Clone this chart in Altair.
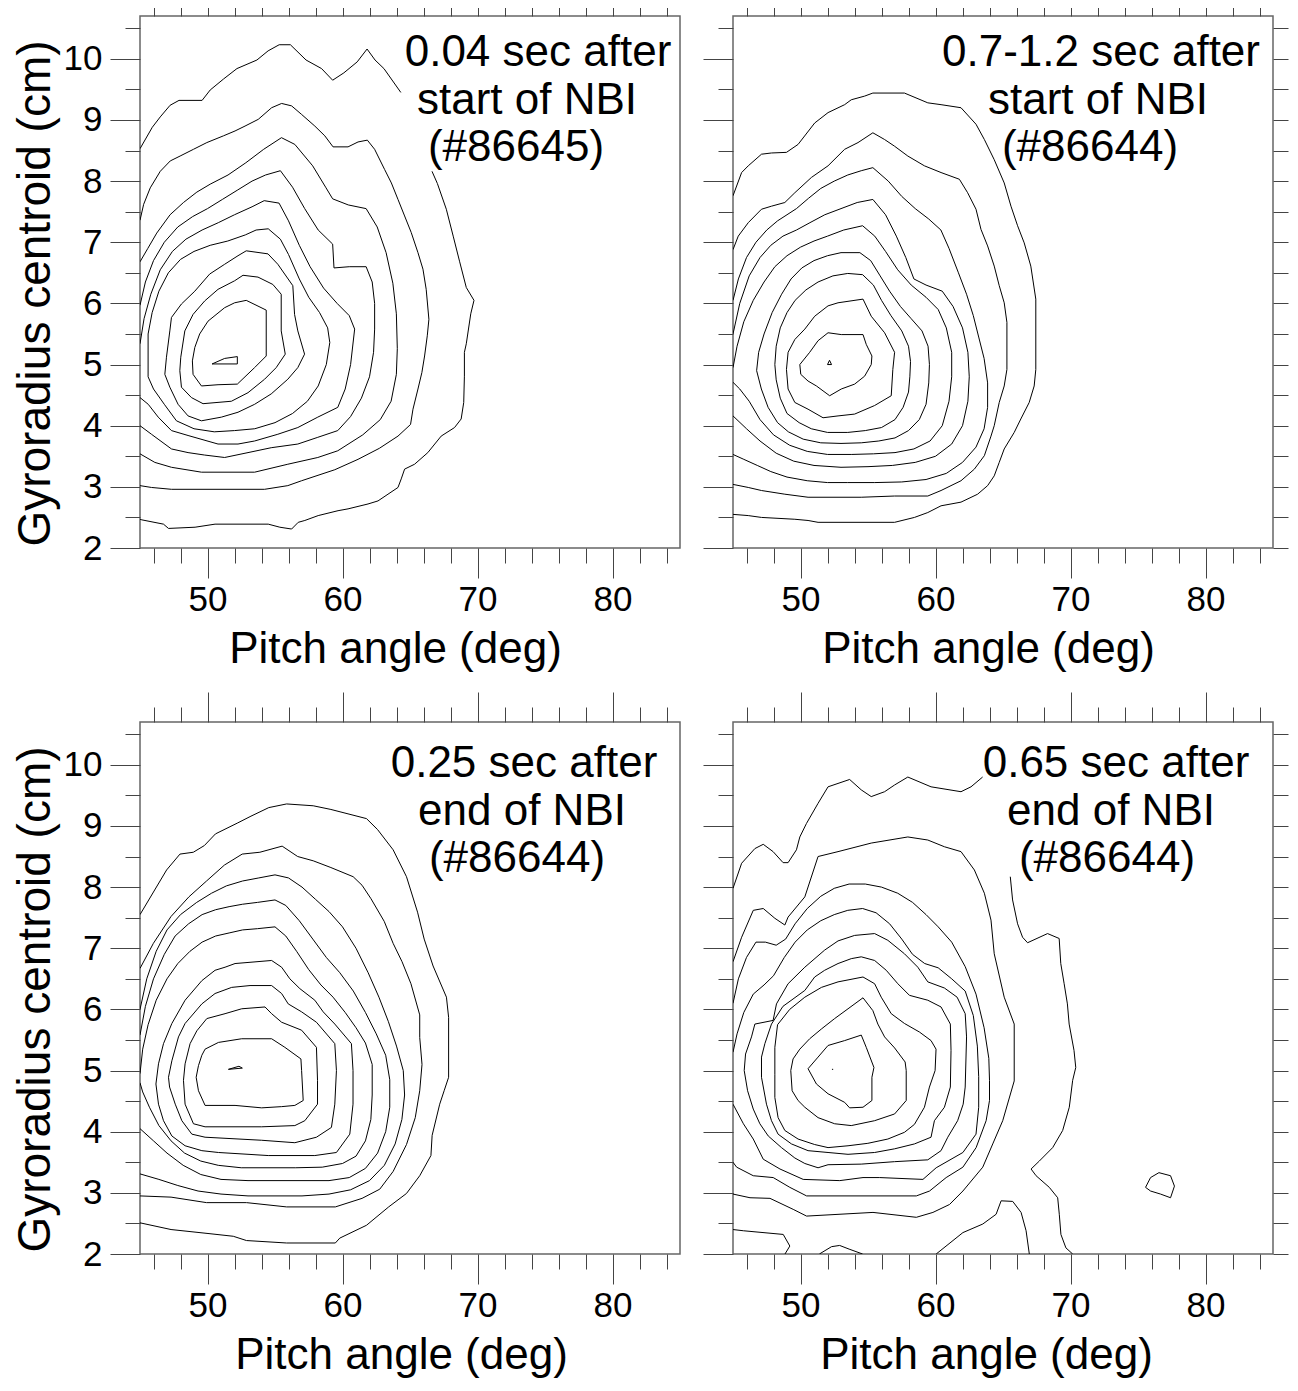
import altair as alt
import pandas as pd

FONT = "Liberation Sans"
X_DOMAIN = [45, 85]
Y_DOMAIN = [2, 10.7]
X_TICKS = [46, 48, 50, 52, 54, 56, 58, 60, 62, 64, 66, 68, 70, 72, 74, 76, 78, 80, 82, 84]
Y_TICKS = [2, 2.5, 3, 3.5, 4, 4.5, 5, 5.5, 6, 6.5, 7, 7.5, 8, 8.5, 9, 9.5, 10, 10.5]

# ---------------- top-left: 0.04 s after start of NBI (#86645) ----------------
TL_TRI = [(50.34, 5.01), (51.27, 5.10), (52.21, 5.13), (52.21, 5.01)]
TL_1 = [(52.87, 6.05), (54.35, 5.89), (54.35, 5.14), (53.49, 4.95), (52.21, 4.68), (50.78, 4.67), (49.55, 4.65),
        (48.93, 4.84), (48.88, 5.06), (49.06, 5.28), (49.42, 5.50), (50.04, 5.71), (51.27, 5.93), (52.01, 6.01)]
TL_2 = [(52.63, 6.46), (53.74, 6.43), (54.84, 6.31), (55.46, 6.15), (55.46, 5.55), (55.76, 5.17), (55.09, 4.95),
        (54.23, 4.76), (53.0, 4.54), (51.77, 4.40), (49.67, 4.36), (48.81, 4.46), (48.07, 4.63), (47.95, 4.90),
        (48.02, 5.12), (48.32, 5.55), (48.93, 5.82), (49.79, 6.04), (50.78, 6.23), (52.01, 6.37)]
TL_3 = [(52.87, 6.86), (54.48, 6.81), (55.21, 6.64), (56.32, 6.29), (56.45, 5.82), (56.69, 5.55), (57.19, 5.17),
        (56.69, 4.95), (55.95, 4.76), (54.72, 4.52), (53.49, 4.35), (52.26, 4.22), (51.03, 4.14), (49.55, 4.08),
        (48.56, 4.16), (47.82, 4.35), (47.21, 4.63), (46.84, 4.84), (46.96, 5.12), (47.21, 5.55), (47.33, 5.77),
        (48.07, 5.99), (49.06, 6.20), (50.16, 6.48), (51.27, 6.64), (52.26, 6.78)]
TL_4 = [(45.6, 5.5), (45.9, 5.85), (46.4, 6.2), (47.1, 6.5), (48.0, 6.72), (49.0, 6.85), (50.2, 6.95), (51.5, 7.02),
        (52.8, 7.12), (53.6, 7.2), (54.5, 7.22), (55.4, 7.05), (56.0, 6.8), (56.8, 6.4), (57.5, 6.1), (58.3, 5.85),
        (58.9, 5.6), (59.06, 5.36), (58.8, 5.0), (58.2, 4.65), (57.4, 4.4), (56.3, 4.2), (55.0, 4.05), (53.5, 3.95),
        (52.0, 3.92), (50.5, 3.9), (49.0, 3.95), (47.7, 4.08), (46.8, 4.35), (46.0, 4.6), (45.6, 4.8)]
TL_5 = [(45.0, 5.34), (45.3, 5.75), (45.8, 6.15), (46.5, 6.55), (47.4, 6.85), (48.4, 7.05), (49.6, 7.2), (50.8, 7.32),
        (52.0, 7.45), (53.3, 7.58), (54.2, 7.68), (55.3, 7.64), (56.0, 7.35), (56.8, 6.95), (57.6, 6.6), (58.6, 6.25),
        (59.6, 6.0), (60.5, 5.8), (60.9, 5.58), (60.6, 5.0), (60.2, 4.6), (59.65, 4.30), (58.17, 4.14), (56.69, 3.97),
        (55.21, 3.86), (53.49, 3.75), (52.26, 3.70), (50.78, 3.70), (48.56, 3.84), (47.33, 3.92), (46.35, 4.14),
        (45.61, 4.35), (45.0, 4.46)]
TL_6 = [(45.0, 5.97), (45.4, 6.35), (46.0, 6.7), (46.8, 7.0), (47.8, 7.25), (48.9, 7.42), (50.0, 7.55), (51.1, 7.7),
        (52.2, 7.85), (53.3, 8.0), (54.3, 8.1), (55.4, 8.17), (56.3, 7.9), (57.2, 7.55), (58.2, 7.2), (59.27, 6.97),
        (59.37, 6.58), (60.5, 6.6), (61.75, 6.60), (62.2, 6.35), (62.38, 6.0), (62.38, 5.58), (62.3, 5.2), (62.0, 4.8),
        (61.4, 4.45), (60.6, 4.15), (59.65, 3.92), (58.17, 3.81), (56.69, 3.70), (54.72, 3.64), (53.0, 3.56),
        (51.27, 3.48), (49.79, 3.52), (48.56, 3.56), (47.33, 3.62), (45.85, 3.86), (45.0, 4.0)]
TL_7 = [(45.0, 6.68), (45.58, 6.9), (46.24, 7.15), (47.23, 7.45), (48.22, 7.65), (49.21, 7.82), (50.2, 7.95),
        (51.52, 8.1), (52.84, 8.3), (54.16, 8.52), (55.48, 8.71), (56.47, 8.6), (57.79, 8.25), (58.78, 7.89),
        (59.27, 7.71), (60.43, 7.61), (61.75, 7.55), (62.57, 7.25), (63.23, 6.83), (63.73, 6.33), (63.99, 5.83),
        (64.06, 5.26), (63.99, 4.84), (63.6, 4.4), (62.8, 4.1), (61.5, 3.85), (59.65, 3.59), (58.17, 3.48),
        (55.95, 3.37), (53.49, 3.24), (49.55, 3.24), (47.33, 3.32), (46.1, 3.4), (45.0, 3.54)]
TL_8 = [(45.0, 7.36), (45.27, 7.62), (45.76, 7.89), (46.50, 8.16), (47.24, 8.33), (47.97, 8.41), (48.96, 8.52),
        (49.95, 8.63), (51.18, 8.74), (52.04, 8.82), (52.78, 8.90), (53.76, 9.01), (54.75, 9.20), (55.49, 9.27),
        (56.23, 9.23), (56.97, 9.09), (57.95, 8.90), (58.69, 8.74), (59.30, 8.56), (60.41, 8.56), (61.15, 8.64),
        (61.84, 8.67), (62.38, 8.52), (63.12, 8.19), (63.62, 7.97), (64.11, 7.70), (64.60, 7.43), (65.09, 7.16),
        (65.59, 6.83), (65.96, 6.56), (66.20, 6.23), (66.40, 5.74), (66.28, 5.47), (66.08, 5.14), (65.88, 4.87),
        (65.59, 4.60), (65.22, 4.27), (65.04, 4.02), (64.11, 3.83), (62.73, 3.63), (61.15, 3.45), (59.43, 3.28),
        (56.97, 3.10), (55.95, 3.02), (54.23, 2.96), (47.33, 2.96), (45.85, 2.99), (45.0, 3.02)]
TL_9A = [(45.0, 8.53), (45.91, 8.88), (46.5, 9.05), (47.23, 9.24), (47.89, 9.32), (49.60, 9.32), (50.20, 9.49),
         (51.19, 9.67), (52.18, 9.84), (53.66, 9.98), (54.49, 10.13), (55.31, 10.23), (56.14, 10.23), (57.3, 9.98),
         (58.45, 9.84), (59.27, 9.65), (60.10, 9.77), (61.09, 9.95), (61.82, 10.16), (62.41, 9.98), (63.07, 9.84),
         (64.32, 9.45)]
TL_9B = [(66.63, 8.16), (67.03, 7.96), (67.69, 7.54), (68.2, 7.1), (68.68, 6.68), (69.17, 6.26), (69.74, 6.05),
         (69.50, 5.83), (69.17, 5.34), (69.03, 5.20), (69.03, 4.81), (68.98, 4.38), (68.79, 4.11), (68.3, 3.97),
         (67.31, 3.83), (66.32, 3.56), (65.34, 3.37), (64.6, 3.29), (64.35, 3.13), (64.11, 2.99), (63.37, 2.88),
         (62.63, 2.77), (61.89, 2.72), (60.41, 2.64), (59.67, 2.61), (58.2, 2.53), (57.21, 2.45), (56.72, 2.42),
         (56.23, 2.31), (55.36, 2.34), (54.5, 2.39), (50.56, 2.39), (49.08, 2.34), (47.11, 2.32), (46.74, 2.39),
         (45.14, 2.46), (45.0, 2.47)]

# ---------------- top-right: 0.7-1.2 s after start of NBI (#86644) ----------------
TR_TRI = [(52.0, 5.0), (52.3, 5.0), (52.15, 5.07)]
TR_1 = [(49.95, 5.0), (50.68, 5.2), (51.3, 5.39), (52.04, 5.52), (53.02, 5.49), (54.63, 5.49), (54.87, 5.33),
        (55.29, 5.14), (55.24, 5.0), (54.75, 4.81), (54.01, 4.68), (53.02, 4.60), (52.16, 4.49), (51.18, 4.65),
        (50.56, 4.73), (50.02, 4.84)]
TR_2 = [(52.78, 6.01), (54.63, 6.07), (55.24, 5.79), (56.23, 5.52), (56.97, 5.20), (56.84, 4.92), (56.72, 4.49),
        (55.49, 4.33), (54.01, 4.19), (52.78, 4.16), (51.67, 4.13), (50.56, 4.27), (49.58, 4.38), (49.08, 4.60),
        (48.96, 4.92), (49.08, 5.20), (49.58, 5.41), (50.32, 5.58), (51.05, 5.79), (52.04, 5.96)]
TR_3 = [(53.5, 6.49), (54.6, 6.47), (55.4, 6.3), (56.0, 6.05), (56.7, 5.8), (57.5, 5.55), (58.0, 5.3), (58.15, 5.05),
        (58.1, 4.8), (58.0, 4.55), (57.6, 4.3), (57.0, 4.1), (56.0, 3.97), (54.8, 3.92), (53.5, 3.89), (52.0, 3.89),
        (50.8, 3.95), (49.9, 4.05), (49.0, 4.2), (48.5, 4.45), (48.2, 4.75), (48.1, 5.0), (48.2, 5.3), (48.5, 5.6),
        (49.0, 5.85), (49.6, 6.05), (50.4, 6.22), (51.3, 6.35), (52.4, 6.45)]
TR_4 = [(51.0, 6.7), (52.0, 6.78), (53.0, 6.83), (54.4, 6.83), (55.2, 6.7), (55.9, 6.45), (56.6, 6.2), (57.4, 5.95),
        (58.2, 5.75), (59.0, 5.55), (59.45, 5.3), (59.55, 5.0), (59.5, 4.7), (59.3, 4.35), (58.8, 4.1), (58.0, 3.92),
        (57.0, 3.8), (55.8, 3.75), (54.5, 3.72), (53.0, 3.71), (51.5, 3.72), (50.2, 3.78), (49.1, 3.9), (48.3, 4.05),
        (47.6, 4.3), (47.1, 4.6), (46.75, 4.9), (46.9, 5.2), (47.3, 5.5), (47.9, 5.85), (48.6, 6.15), (49.3, 6.4),
        (50.1, 6.58)]
TR_5 = [(45.0, 4.95), (45.3, 5.3), (45.8, 5.7), (46.5, 6.05), (47.3, 6.35), (48.1, 6.6), (49.0, 6.78), (50.0, 6.92),
        (51.0, 7.02), (52.0, 7.1), (53.2, 7.2), (54.6, 7.27), (55.5, 7.1), (56.3, 6.85), (57.2, 6.55), (58.2, 6.3),
        (59.3, 6.1), (60.2, 5.9), (60.8, 5.6), (61.2, 5.2), (61.2, 4.8), (61.0, 4.4), (60.5, 4.0), (59.6, 3.75),
        (58.4, 3.62), (57.0, 3.56), (55.4, 3.54), (53.8, 3.53), (52.0, 3.53), (50.5, 3.58), (49.2, 3.68), (48.0, 3.85),
        (47.0, 4.1), (46.2, 4.4), (45.5, 4.6), (45.0, 4.71)]
TR_6 = [(45.0, 5.5), (45.5, 6.0), (46.2, 6.45), (47.0, 6.75), (47.8, 6.95), (48.7, 7.1), (49.7, 7.2), (50.7, 7.32),
        (51.8, 7.45), (53.0, 7.55), (54.2, 7.65), (55.36, 7.7), (56.3, 7.45), (57.1, 7.1), (57.8, 6.75), (58.4, 6.4),
        (59.3, 6.3), (60.5, 6.2), (61.3, 5.95), (62.0, 5.6), (62.4, 5.2), (62.5, 4.8), (62.4, 4.4), (62.0, 4.0),
        (61.2, 3.7), (60.0, 3.5), (58.5, 3.4), (56.8, 3.35), (55.0, 3.33), (53.0, 3.32), (51.0, 3.35), (49.5, 3.42),
        (48.2, 3.55), (47.0, 3.75), (46.0, 3.95), (45.0, 4.16)]
TR_7 = [(45.0, 6.05), (45.4, 6.4), (46.0, 6.75), (46.7, 7.0), (47.5, 7.2), (48.3, 7.35), (49.0, 7.45), (49.7, 7.55),
        (50.6, 7.72), (51.5, 7.88), (52.5, 8.0), (53.5, 8.1), (54.5, 8.17), (55.36, 8.22), (56.5, 8.0), (57.5, 7.75),
        (58.5, 7.55), (59.5, 7.38), (60.4, 7.2), (61.0, 6.9), (61.7, 6.5), (62.3, 6.15), (62.8, 5.8), (63.2, 5.45),
        (63.6, 5.1), (63.86, 4.7), (63.86, 4.3), (63.6, 3.95), (63.0, 3.65), (62.0, 3.4), (60.8, 3.22), (59.3, 3.12),
        (57.5, 3.08), (55.5, 3.07), (53.5, 3.07), (52.0, 3.07), (50.5, 3.1), (49.0, 3.16), (47.8, 3.25), (46.8, 3.35),
        (45.8, 3.45), (45.0, 3.53)]
TR_8 = [(45.0, 6.88), (45.39, 7.1), (46.13, 7.32), (47.11, 7.54), (47.85, 7.59), (48.84, 7.65), (49.58, 7.81),
        (50.81, 8.06), (52.04, 8.25), (53.27, 8.52), (54.26, 8.63), (55.36, 8.79), (56.23, 8.68), (56.97, 8.57),
        (57.95, 8.41), (59.18, 8.25), (60.41, 8.14), (61.77, 8.03), (62.38, 7.81), (63.0, 7.54), (63.37, 7.21),
        (63.86, 6.94), (64.35, 6.61), (64.72, 6.29), (65.09, 6.01), (65.29, 5.69), (65.29, 4.92), (65.09, 4.65),
        (64.72, 4.38), (64.35, 4.0), (64.11, 3.83), (63.62, 3.51), (62.88, 3.29), (61.89, 3.1), (60.41, 2.94),
        (59.43, 2.85), (56.97, 2.85), (54.5, 2.83), (50.56, 2.83), (48.84, 2.88), (47.11, 2.94), (46.13, 2.99),
        (45.0, 3.04)]
TR_9 = [(45.0, 7.76), (45.64, 8.14), (46.13, 8.25), (47.11, 8.44), (47.85, 8.46), (48.96, 8.47), (49.82, 8.6),
        (51.05, 8.95), (52.04, 9.12), (53.27, 9.25), (53.76, 9.33), (54.75, 9.39), (55.36, 9.44), (57.7, 9.44),
        (59.43, 9.28), (60.41, 9.25), (61.89, 9.2), (63.0, 8.93), (63.62, 8.68), (64.35, 8.35), (65.09, 7.97),
        (65.59, 7.59), (66.08, 7.27), (66.57, 6.99), (67.06, 6.61), (67.43, 6.07), (67.43, 4.92), (67.31, 4.65),
        (66.94, 4.38), (66.32, 4.11), (65.83, 3.89), (65.09, 3.62), (64.72, 3.40), (64.35, 3.18), (63.86, 3.02),
        (63.12, 2.88), (61.89, 2.75), (60.41, 2.69), (59.43, 2.58), (58.44, 2.5), (56.97, 2.42), (51.3, 2.42),
        (50.56, 2.45), (49.58, 2.47), (47.11, 2.5), (46.13, 2.53), (45.0, 2.55)]

# ---------------- bottom-left: 0.25 s after end of NBI (#86644) ----------------
BL_TRI = [(51.55, 5.02), (52.58, 5.04), (52.33, 5.07)]
BL_1 = [(49.82, 5.35), (50.81, 5.46), (52.53, 5.52), (54.75, 5.52), (55.73, 5.38), (56.92, 5.19), (56.97, 5.0),
        (57.09, 4.51), (56.47, 4.43), (55.49, 4.41), (54.01, 4.39), (52.04, 4.43), (49.82, 4.43), (49.33, 4.67),
        (49.16, 4.89), (49.33, 5.08), (49.58, 5.25)]
BL_2 = [(51.3, 5.93), (52.53, 6.01), (54.26, 6.04), (54.75, 5.93), (55.49, 5.79), (56.97, 5.66), (58.07, 5.38),
        (58.15, 4.84), (58.15, 4.45), (57.21, 4.18), (56.47, 4.1), (54.01, 4.08), (49.82, 4.08), (48.96, 4.13),
        (48.34, 4.45), (48.22, 4.84), (48.34, 5.11), (48.71, 5.44), (49.21, 5.65), (49.95, 5.85)]
BL_3 = [(50.56, 6.26), (51.79, 6.36), (53.15, 6.39), (54.75, 6.39), (55.49, 6.26), (55.98, 6.09), (56.97, 5.96),
        (58.07, 5.79), (59.43, 5.44), (59.55, 5.0), (59.43, 4.45), (59.18, 4.07), (58.07, 3.91), (56.47, 3.82),
        (54.01, 3.86), (49.82, 3.91), (48.84, 3.96), (48.1, 4.18), (47.61, 4.45), (47.19, 4.73), (47.11, 4.89),
        (47.36, 5.16), (47.85, 5.55), (48.34, 5.77), (49.58, 6.09)]
BL_4 = [(51.3, 6.69), (52.04, 6.75), (54.75, 6.8), (55.49, 6.69), (56.1, 6.5), (56.84, 6.34), (57.95, 6.15),
        (58.57, 5.96), (59.43, 5.76), (60.66, 5.44), (60.78, 5.0), (60.78, 4.45), (60.54, 3.96), (59.55, 3.66),
        (57.95, 3.61), (54.5, 3.61), (50.81, 3.66), (49.58, 3.69), (48.34, 3.77), (47.36, 3.93), (46.74, 4.18),
        (46.37, 4.45), (46.18, 4.78), (46.37, 5.11), (46.74, 5.44), (47.36, 5.77), (48.34, 6.15), (49.58, 6.47),
        (50.56, 6.64)]
BL_5 = [(45.0, 4.95), (45.2, 5.35), (45.6, 5.75), (46.2, 6.15), (47.0, 6.5), (47.8, 6.75), (48.7, 6.95), (49.6, 7.1),
        (50.6, 7.2), (51.6, 7.25), (52.6, 7.3), (53.7, 7.32), (55.0, 7.35), (55.8, 7.2), (56.6, 6.95), (57.5, 6.65),
        (58.4, 6.4), (59.3, 6.2), (60.2, 5.95), (61.0, 5.7), (61.7, 5.45), (62.2, 5.1), (62.2, 4.6), (62.1, 4.2),
        (61.7, 3.85), (61.0, 3.6), (60.0, 3.48), (58.5, 3.42), (56.5, 3.41), (52.5, 3.41), (50.8, 3.45), (49.5, 3.52),
        (48.3, 3.65), (47.3, 3.85), (46.4, 4.1), (45.7, 4.4), (45.2, 4.65), (45.0, 4.8)]
BL_6 = [(45.0, 5.58), (45.4, 6.05), (46.0, 6.5), (46.8, 6.9), (47.6, 7.2), (48.6, 7.4), (49.6, 7.55), (50.6, 7.63),
        (51.6, 7.68), (52.6, 7.72), (53.7, 7.75), (55.0, 7.79), (55.8, 7.7), (56.8, 7.45), (57.8, 7.15), (58.8, 6.85),
        (59.8, 6.6), (60.8, 6.3), (61.7, 5.95), (62.5, 5.6), (63.2, 5.25), (63.5, 4.85), (63.5, 4.4), (63.2, 4.0),
        (62.6, 3.65), (61.7, 3.4), (60.5, 3.25), (59.0, 3.2), (53.0, 3.2), (51.0, 3.22), (49.5, 3.3), (48.2, 3.45),
        (47.0, 3.65), (46.0, 3.85), (45.0, 4.05)]
BL_7 = [(45.0, 6.0), (45.5, 6.5), (46.2, 6.95), (47.0, 7.3), (48.0, 7.55), (49.2, 7.75), (50.3, 7.9), (51.4, 8.02),
        (52.6, 8.1), (53.8, 8.15), (55.0, 8.2), (56.0, 8.15), (57.0, 8.0), (58.0, 7.8), (59.0, 7.6), (60.0, 7.35),
        (61.0, 7.0), (61.9, 6.6), (62.7, 6.2), (63.4, 5.8), (64.0, 5.4), (64.5, 5.0), (64.6, 4.6), (64.4, 4.2),
        (63.9, 3.8), (63.1, 3.45), (62.0, 3.2), (60.6, 3.05), (59.0, 2.98), (57.0, 2.95), (53.0, 2.95), (51.0, 2.98),
        (49.3, 3.03), (47.8, 3.12), (46.4, 3.22), (45.0, 3.31)]
BL_8 = [(45.0, 6.67), (45.99, 7.08), (47.3, 7.52), (48.62, 7.84), (49.93, 8.1), (51.25, 8.36), (52.57, 8.54),
        (53.88, 8.57), (55.53, 8.67), (56.68, 8.5), (57.83, 8.43), (59.14, 8.32), (60.79, 8.17), (61.45, 8.03),
        (62.11, 7.81), (63.09, 7.44), (63.75, 7.08), (64.41, 6.78), (65.07, 6.42), (65.72, 5.91), (65.72, 5.54),
        (65.89, 5.1), (65.72, 4.67), (65.39, 4.23), (64.74, 3.79), (63.75, 3.35), (62.76, 3.06), (61.45, 2.91),
        (59.47, 2.77), (55.86, 2.77), (52.89, 2.84), (49.93, 2.84), (47.3, 2.93), (45.0, 2.95)]
BL_9 = [(45.0, 7.55), (46.97, 8.28), (47.96, 8.54), (48.95, 8.57), (49.77, 8.68), (50.59, 8.87), (52.24, 9.05),
        (53.22, 9.16), (54.54, 9.30), (55.86, 9.36), (57.83, 9.33), (59.14, 9.27), (61.78, 9.12), (62.6, 8.94),
        (63.75, 8.61), (64.74, 8.17), (65.56, 7.59), (66.05, 7.15), (66.71, 6.71), (67.7, 6.2), (67.86, 5.87),
        (67.86, 4.89), (67.53, 4.67), (67.2, 4.45), (66.64, 3.94), (66.55, 3.61), (65.72, 3.28), (64.74, 2.99),
        (63.42, 2.77), (61.78, 2.47), (59.8, 2.26), (59.47, 2.18), (55.86, 2.18), (52.89, 2.22), (51.91, 2.29),
        (50.26, 2.33), (47.3, 2.4), (45.0, 2.51)]

# ---------------- bottom-right: 0.65 s after end of NBI (#86644) ----------------
BR_DOT = [(52.33, 5.02), (52.42, 5.02)]
BR_1 = [(50.56, 5.03), (51.3, 5.22), (52.04, 5.41), (53.27, 5.49), (54.5, 5.58), (54.87, 5.38), (55.44, 5.05),
        (55.29, 4.89), (55.29, 4.51), (54.63, 4.4), (53.64, 4.39), (53.27, 4.48), (52.04, 4.62), (51.18, 4.78)]
BR_2 = [(54.63, 6.19), (55.36, 5.98), (55.73, 5.76), (56.23, 5.55), (56.97, 5.37), (57.75, 5.14), (57.83, 5.0),
        (57.83, 4.51), (56.97, 4.29), (55.49, 4.18), (53.76, 4.1), (52.53, 4.13), (51.3, 4.23), (50.32, 4.4),
        (49.82, 4.51), (49.38, 4.67), (49.28, 5.0), (49.45, 5.19), (49.95, 5.35), (50.68, 5.52), (51.55, 5.68),
        (52.53, 5.85), (53.52, 6.01)]
BR_3 = [(48.3, 5.75), (49.2, 6.0), (50.32, 6.2), (51.55, 6.36), (52.78, 6.45), (54.63, 6.53), (55.49, 6.42),
        (55.98, 6.2), (56.72, 5.93), (57.7, 5.77), (58.81, 5.63), (59.67, 5.49), (60.04, 5.35), (59.97, 5.0),
        (59.55, 4.73), (59.18, 4.4), (58.44, 4.12), (57.7, 3.99), (56.47, 3.88), (54.99, 3.81), (53.52, 3.77),
        (52.04, 3.74), (51.05, 3.79), (49.82, 3.88), (48.84, 4.02), (48.34, 4.23), (48.1, 4.56), (48.1, 4.94),
        (48.1, 5.38)]
BR_4 = [(47.11, 4.89), (47.11, 5.22), (47.36, 5.44), (47.85, 5.76), (48.7, 6.05), (50.32, 6.31), (51.05, 6.53),
        (51.79, 6.64), (52.78, 6.75), (53.76, 6.83), (54.5, 6.86), (55.49, 6.8), (56.35, 6.64), (57.21, 6.42),
        (58.07, 6.23), (59.43, 6.15), (60.41, 6.04), (61.1, 5.76), (61.15, 5.33), (61.1, 4.73), (60.66, 4.4),
        (59.92, 4.18), (59.67, 3.91), (58.44, 3.8), (56.97, 3.72), (55.49, 3.66), (53.52, 3.63), (52.04, 3.66),
        (50.56, 3.69), (49.33, 3.8), (48.34, 3.96), (47.85, 4.18), (47.48, 4.45)]
BR_5 = [(45.83, 5.0), (45.93, 5.27), (46.37, 5.55), (46.62, 5.76), (47.97, 5.82), (48.22, 6.09), (49.08, 6.42),
        (50.32, 6.69), (51.79, 6.97), (52.78, 7.12), (54.01, 7.21), (55.49, 7.24), (56.47, 7.13), (57.7, 6.91),
        (58.69, 6.69), (59.43, 6.45), (60.66, 6.35), (61.6, 6.2), (62.2, 5.93), (62.3, 5.55), (62.2, 4.73),
        (62.05, 4.45), (61.64, 4.18), (60.91, 3.91), (60.41, 3.69), (59.43, 3.54), (56.97, 3.51), (54.5, 3.47),
        (52.04, 3.46), (51.3, 3.41), (50.32, 3.48), (49.58, 3.57), (48.59, 3.74), (47.61, 3.93), (46.99, 4.13),
        (46.5, 4.37), (46.08, 4.67)]
BR_6 = [(45.0, 5.3), (45.3, 5.6), (45.8, 5.95), (46.5, 6.25), (47.3, 6.4), (48.0, 6.55), (48.8, 6.85), (49.6, 7.1),
        (50.5, 7.3), (51.5, 7.45), (52.5, 7.55), (53.5, 7.62), (54.6, 7.65), (55.6, 7.58), (56.6, 7.4), (57.5, 7.15),
        (58.3, 6.9), (59.2, 6.75), (60.2, 6.68), (61.2, 6.5), (62.2, 6.3), (62.8, 5.9), (63.1, 5.4), (63.2, 4.9),
        (63.2, 4.4), (63.0, 3.96), (62.03, 3.66), (60.05, 3.41), (59.07, 3.22), (55.87, 3.25), (54.63, 3.25),
        (52.91, 3.2), (50.2, 3.22), (48.48, 3.39), (47.24, 3.55), (46.5, 3.88), (45.77, 4.13), (45.0, 4.45)]
BR_7 = [(45.0, 6.1), (45.4, 6.5), (46.0, 6.85), (46.7, 7.1), (47.4, 7.1), (48.2, 7.05), (48.9, 7.15), (49.6, 7.4),
        (50.5, 7.65), (51.5, 7.85), (52.5, 7.98), (53.6, 8.05), (54.8, 8.05), (56.0, 8.0), (57.2, 7.9), (58.3, 7.75),
        (59.3, 7.55), (60.2, 7.35), (61.2, 7.1), (62.2, 6.7), (63.0, 6.25), (63.6, 5.7), (63.95, 5.2), (64.0, 4.84),
        (64.0, 4.51), (63.75, 4.18), (63.01, 3.74), (62.03, 3.42), (60.79, 3.25), (59.56, 3.03), (58.58, 2.95),
        (50.45, 2.95), (49.21, 3.09), (47.98, 3.25), (46.5, 3.28), (45.27, 3.42), (45.0, 3.5)]
BR_8 = [(45.0, 6.78), (45.64, 7.18), (46.5, 7.62), (47.24, 7.65), (48.1, 7.49), (48.84, 7.38), (49.08, 7.51),
        (50.32, 7.84), (51.3, 8.5), (52.78, 8.58), (55.24, 8.72), (57.95, 8.82), (59.43, 8.77), (60.66, 8.66),
        (61.89, 8.58), (62.88, 8.28), (63.62, 7.9), (64.11, 7.46), (64.35, 6.91), (65.09, 6.2), (65.83, 5.76),
        (65.83, 4.83), (64.98, 4.18), (64.24, 3.8), (63.5, 3.42), (62.03, 3.03), (61.04, 2.81), (59.81, 2.68),
        (58.58, 2.6), (55.37, 2.68), (50.45, 2.62), (49.46, 2.73), (47.74, 2.91), (46.26, 2.92), (45.0, 2.98)]
BR_9A = [(45.0, 7.98), (45.64, 8.39), (46.62, 8.63), (47.24, 8.7), (47.97, 8.58), (48.71, 8.4), (49.08, 8.4),
         (49.7, 8.61), (49.95, 8.82), (50.44, 9.04), (51.3, 9.37), (52.04, 9.64), (53.64, 9.76), (54.5, 9.59),
         (55.24, 9.48), (56.23, 9.56), (56.97, 9.67), (57.95, 9.8), (59.67, 9.64), (61.89, 9.56), (62.63, 9.64),
         (63.49, 9.8)]
BR_9B = [(65.54, 8.17), (65.71, 7.79), (66.08, 7.4), (66.45, 7.18), (66.82, 7.09), (68.3, 7.24), (69.16, 7.16),
         (69.28, 6.75), (69.53, 6.42), (69.77, 6.09), (69.9, 5.76), (70.26, 5.33), (70.39, 5.05), (70.16, 4.84),
         (69.91, 4.4), (69.42, 4.02), (68.68, 3.74), (67.69, 3.52), (67.08, 3.39), (67.45, 3.28), (68.43, 3.09),
         (69.05, 2.92), (69.17, 2.65), (69.29, 2.32), (69.66, 2.1), (70.16, 2.0)]
BR_9C = [(45.0, 2.40), (45.77, 2.38), (48.72, 2.32), (49.21, 2.13), (48.85, 2.0)]
BR_9D = [(51.4, 2.0), (52.3, 2.12), (52.9, 2.14), (53.6, 2.08), (54.6, 2.0)]
BR_9E = [(60.05, 2.0), (62.03, 2.35), (63.5, 2.49), (64.49, 2.65), (64.86, 2.87), (65.72, 2.86), (66.34, 2.68),
         (66.71, 2.38), (66.95, 2.0)]
BR_9F = [(75.56, 3.09), (75.93, 3.25), (76.55, 3.33), (77.41, 3.28), (77.7, 3.11), (77.41, 2.92), (76.67, 2.98),
         (75.93, 3.03)]

# (points, closed?)
PANELS = {
    "TL": [(TL_TRI, True), (TL_1, True), (TL_2, True), (TL_3, True), (TL_4, True), (TL_5, False), (TL_6, False),
           (TL_7, False), (TL_8, False), (TL_9A, False), (TL_9B, False)],
    "TR": [(TR_TRI, True), (TR_1, True), (TR_2, True), (TR_3, True), (TR_4, True), (TR_5, False), (TR_6, False),
           (TR_7, False), (TR_8, False), (TR_9, False)],
    "BL": [(BL_TRI, True), (BL_1, True), (BL_2, True), (BL_3, True), (BL_4, True), (BL_5, False), (BL_6, False),
           (BL_7, False), (BL_8, False), (BL_9, False)],
    "BR": [(BR_DOT, False), (BR_1, True), (BR_2, True), (BR_3, True), (BR_4, True), (BR_5, True), (BR_6, False),
           (BR_7, False), (BR_8, False), (BR_9A, False), (BR_9B, False), (BR_9C, False), (BR_9D, False),
           (BR_9E, False), (BR_9F, True)],
}

NOTES = {
    "TL": ["0.04 sec after", "start of NBI", "(#86645)"],
    "TR": ["0.7-1.2 sec after", "start of NBI", "(#86644)"],
    "BL": ["0.25 sec after", "end of NBI", "(#86644)"],
    "BR": ["0.65 sec after", "end of NBI", "(#86644)"],
}
NOTE_X = {"TL": [398, 387, 376], "TR": [368, 365, 357], "BL": [384, 382, 377], "BR": [383, 378, 374]}
NOTE_Y = {"TL": [50, 98, 145], "TR": [50, 98, 145], "BL": [55, 103, 150], "BR": [55, 103, 150]}
XTITLE_X = {"TL": 255, "TR": 255, "BL": 261, "BR": 253}

W, H = 540, 532
MAJ_X = "datum.value % 10 === 0"
MAJ_Y = "datum.value % 1 === 0"


def tick_size(test, major, minor):
    return {"condition": {"test": test, "value": major}, "value": minor}


def make_panel(key, left_labels, right_ticks):
    rows = []
    for cid, (pts, closed) in enumerate(PANELS[key]):
        seq = list(pts) + ([pts[0]] if closed else [])
        for k, (p, g) in enumerate(seq):
            rows.append({"cid": cid, "k": k, "pitch": p, "gyro": g})
    df = pd.DataFrame(rows)
    xs = alt.Scale(domain=X_DOMAIN, nice=False, zero=False)
    ys = alt.Scale(domain=Y_DOMAIN, nice=False, zero=False)

    x_bottom = alt.Axis(orient="bottom", values=X_TICKS, domain=False, grid=False,
                        tickSize=tick_size(MAJ_X, 30, 15),
                        labelExpr=f"{MAJ_X} ? format(datum.value, 'd') : ''",
                        labelOverlap=False, labelPadding=4, labelFontSize=35,
                        title="Pitch angle (deg)", titlePadding=10, titleFontSize=44,
                        titleX=XTITLE_X[key])
    if left_labels:
        y_left = alt.Axis(orient="left", values=Y_TICKS, domain=False, grid=False,
                          tickSize=tick_size(MAJ_Y, 30, 15),
                          labelExpr=f"{MAJ_Y} ? format(datum.value, 'd') : ''",
                          labelOverlap=False, labelPadding=8, labelFontSize=35,
                          title="Gyroradius centroid (cm)", titlePadding=4, titleFontSize=46,
                          titleY=277)
    else:
        y_left = alt.Axis(orient="left", values=Y_TICKS, domain=False, grid=False,
                          tickSize=tick_size(MAJ_Y, 30, 15), labels=False, title=None)
    x_top = alt.Axis(orient="top", values=X_TICKS, domain=False, grid=False,
                     tickSize=tick_size(MAJ_X, 30, 15), labels=False, title=None)
    if right_ticks:
        y_right = alt.Axis(orient="right", values=Y_TICKS, domain=False, grid=False,
                           tickSize=15, labels=False, title=None)
    else:
        y_right = None

    enc = dict(detail="cid:N", order="k:Q")
    lines = alt.Chart(df).mark_line(color="black", strokeWidth=1, clip=True).encode(
        x=alt.X("pitch:Q", scale=xs, axis=x_bottom),
        y=alt.Y("gyro:Q", scale=ys, axis=y_left),
        **enc,
    )
    top = alt.Chart(df).mark_line(opacity=0, clip=True).encode(
        x=alt.X("pitch:Q", scale=xs, axis=x_top),
        y=alt.Y("gyro:Q", scale=ys, axis=y_right),
        **enc,
    )
    texts = []
    for line, tx, ty in zip(NOTES[key], NOTE_X[key], NOTE_Y[key]):
        texts.append(
            alt.Chart(pd.DataFrame({"t": [line]})).mark_text(
                font=FONT, fontSize=44, align="center", baseline="alphabetic", color="black"
            ).encode(text="t:N", x=alt.value(tx), y=alt.value(ty))
        )
    return alt.layer(lines, top, *texts).resolve_axis(x="independent", y="independent").properties(
        width=W, height=H
    )


tl = make_panel("TL", True, False)
tr = make_panel("TR", False, True)
bl = make_panel("BL", True, False)
br = make_panel("BR", False, True)

row1 = alt.hconcat(tl, tr, spacing=20)
row2 = alt.hconcat(bl, br, spacing=20)

chart = (
    alt.vconcat(row1, row2, spacing=18)
    .properties(padding={"left": 3, "top": -24, "right": 0, "bottom": 0}, background="white")
    .configure_view(stroke="#666666", strokeWidth=1.5)
    .configure_axis(labelFont=FONT, titleFont=FONT, labelColor="black", titleColor="black",
                    titleFontWeight="normal", tickColor="#444444", tickWidth=1)
)

chart.save("out.html", embed_options={"renderer": "svg", "actions": False})
